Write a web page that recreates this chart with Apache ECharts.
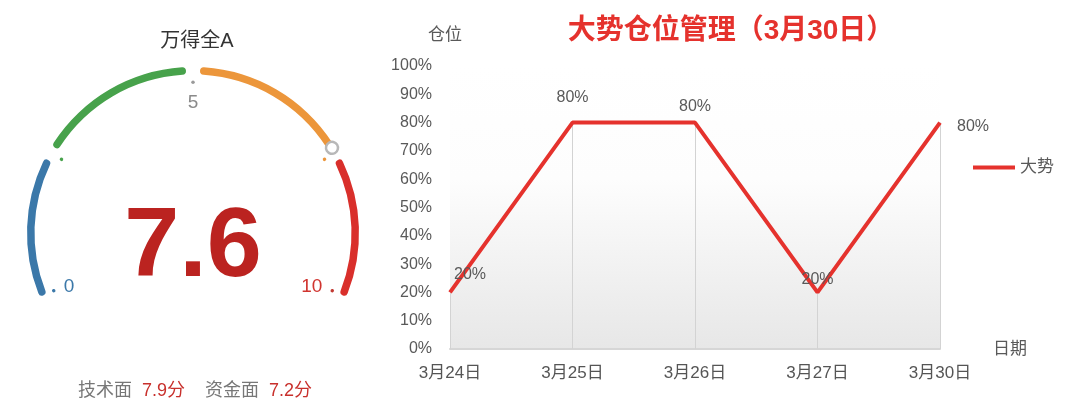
<!DOCTYPE html>
<html><head><meta charset="utf-8">
<script src="https://cdn.jsdelivr.net/npm/echarts@6/dist/echarts.min.js"></script>
<style>html,body{margin:0;padding:0;background:#fff}#c{width:1080px;height:420px}</style>
</head><body><div id="c"></div>
<script>
// ---------- gauge data ----------
const gaugeTitle = '万得全A';
const gaugeValue = 7.6;
const gaugeMin = 0;
const gaugeMax = 10;
const gaugeSplits = 2;               // labels 0, 5, 10
const segmentBounds = [0, 2.3, 5, 7.7, 10];
const segmentColors = ['#3b78a9', '#47a24b', '#ec963b', '#d92f2b'];
const tickValues = [0, 2.3, 5, 7.7, 10];
const tickColors = ['#3b78a9', '#47a24b', '#9a9a9a', '#ec963b', '#c23a33'];
const subLabels = ['技术面', '资金面'];
const subScores = [7.9, 7.2];

// ---------- line chart data ----------
const lineTitle = '大势仓位管理（3月30日）';
const categories = ['3月24日', '3月25日', '3月26日', '3月27日', '3月30日'];
const seriesName = '大势';
const positionValues = [20, 80, 80, 20, 80];
const yAxisName = '仓位';
const xAxisName = '日期';

// label placement (layout only)
const labelPlacement = [
  {position: 'top', offset: [20, -5]},
  {position: 'top', offset: [0, -12]},
  {position: 'top', offset: [0, -3]},
  {position: 'top', offset: [0, 0]},
  {position: 'right', offset: [12, 4]}
];

const FONT = "'Liberation Sans', 'Noto Sans CJK SC', sans-serif";
const chart = echarts.init(document.getElementById('c'));

// gauge geometry
const G_CENTER = [193, 233];
const G_RADIUS = 166;
const G_START = 202.5;
const G_END = -22.5;
const angleOf = v => G_START - (v - gaugeMin) / (gaugeMax - gaugeMin) * (G_START - G_END);
const HALF_GAP = 3.8, END_PAD = 1.2;

const segmentSeries = segmentColors.map((col, i) => {
  const a0 = angleOf(segmentBounds[i]) - (i === 0 ? END_PAD : HALF_GAP);
  const a1 = angleOf(segmentBounds[i + 1]) + (i === segmentColors.length - 1 ? END_PAD : HALF_GAP);
  return {
    type: 'gauge', center: G_CENTER, radius: G_RADIUS,
    startAngle: a0, endAngle: a1, min: 0, max: 1,
    axisLine: {show: true, roundCap: true, lineStyle: {width: 7.5, color: [[1, col]]}},
    axisTick: {show: false}, splitLine: {show: false}, axisLabel: {show: false},
    pointer: {show: false}, anchor: {show: false}, progress: {show: false},
    title: {show: false}, detail: {show: false}, data: []
  };
});

const tickSeries = {
  type: 'gauge', center: G_CENTER, radius: G_RADIUS,
  startAngle: G_START, endAngle: G_END, min: gaugeMin, max: gaugeMax,
  axisLine: {show: false}, axisTick: {show: false}, splitLine: {show: false}, axisLabel: {show: false},
  anchor: {show: false}, progress: {show: false}, title: {show: false}, detail: {show: false},
  pointer: {show: true, icon: 'circle', width: 3.5, length: 3.5, offsetCenter: [0, -149]},
  data: tickValues.map((v, i) => ({value: v, itemStyle: {color: tickColors[i]}}))
};

const mainGauge = {
  type: 'gauge', center: G_CENTER, radius: G_RADIUS,
  startAngle: G_START, endAngle: G_END, min: gaugeMin, max: gaugeMax, splitNumber: gaugeSplits,
  axisLine: {show: false, lineStyle: {width: 0, color: [[0.23, '#3b78a9'], [0.4999, '#47a24b'], [0.5, '#8a8a8a'], [0.77, '#ec963b'], [1, '#d0342f']]}},
  axisTick: {show: false},
  splitLine: {show: false, length: 0, distance: 0},
  axisLabel: {show: true, distance: 26, color: 'auto', fontSize: 19, fontFamily: FONT},
  anchor: {show: false}, progress: {show: false}, title: {show: false},
  pointer: {show: true, icon: 'circle', width: 12, length: 12, offsetCenter: [0, -157],
    itemStyle: {color: '#ffffff', borderColor: '#b8b8b8', borderWidth: 2.5}},
  detail: {show: true, offsetCenter: [0, 16], fontSize: 99, fontWeight: 'bold', color: '#bb2320',
    fontFamily: FONT, formatter: '{value}'},
  data: [{value: gaugeValue, name: gaugeTitle}]
};

const subText = subLabels.map((l, i) => `{l|${l}}  {v|${subScores[i]}分}`).join('    ');

const option = {
  animation: false,
  textStyle: {fontFamily: FONT},
  title: [
    {text: gaugeTitle, left: 192, top: 26, textAlign: 'center',
      textStyle: {fontSize: 20, fontWeight: 'normal', color: '#333', fontFamily: FONT}},
    {text: subText, left: 190, top: 377, textAlign: 'center',
      textStyle: {fontSize: 18, fontWeight: 'normal', fontFamily: FONT,
        rich: {l: {fontSize: 18, fontWeight: 'normal', color: '#777'}, v: {fontSize: 18, fontWeight: 'normal', color: '#c8302c'}}}},
    {text: lineTitle, left: 726, top: 12, textAlign: 'center',
      textStyle: {fontSize: 28, fontWeight: 'bold', color: '#e5322d', fontFamily: FONT}}
  ],
  legend: {
    data: [seriesName], left: 968, top: 154, icon: 'rect', itemWidth: 42, itemHeight: 4,
    textStyle: {fontSize: 17, color: '#595959'}
  },
  grid: {
    left: 450, right: 140, top: 66, bottom: 71, show: true, borderWidth: 0,
    backgroundColor: {type: 'linear', x: 0, y: 0, x2: 0, y2: 1, colorStops: [
      {offset: 0, color: '#ffffff'}, {offset: 0.4, color: '#fdfdfd'}, {offset: 1, color: '#e7e7e7'}]}
  },
  xAxis: {
    type: 'category', data: categories, boundaryGap: false,
    name: xAxisName, nameLocation: 'end', nameGap: 53,
    nameTextStyle: {fontSize: 17, color: '#595959', padding: [16, 0, 0, 0]},
    axisLine: {lineStyle: {color: '#d6d6d6', width: 2}},
    axisTick: {show: false},
    axisLabel: {margin: 16, fontSize: 17, color: '#555'},
    splitLine: {show: false}
  },
  yAxis: {
    type: 'value', min: 0, max: 100, interval: 10,
    name: yAxisName, nameLocation: 'end', nameGap: 22,
    nameTextStyle: {fontSize: 17, color: '#595959', padding: [0, 10, 0, 0]},
    axisLine: {show: false}, axisTick: {show: false}, splitLine: {show: false},
    axisLabel: {formatter: '{value}%', fontSize: 16, color: '#595959', margin: 18}
  },
  series: [
    ...segmentSeries,
    tickSeries,
    mainGauge,
    {
      type: 'line', name: seriesName,
      symbol: 'circle', symbolSize: 0.1, showSymbol: true,
      lineStyle: {color: '#e5322d', width: 4},
      itemStyle: {color: '#e5322d'},
      label: {show: true, formatter: '{c}%', fontSize: 16, color: '#595959'},
      data: positionValues.map((v, i) => ({value: v, label: labelPlacement[i]})),
      z: 3,
      markLine: {
        silent: true, symbol: 'none', label: {show: false}, z: 1,
        lineStyle: {color: '#d3d3d3', width: 1, type: 'solid'},
        data: positionValues.map((v, i) => [{coord: [i, v]}, {coord: [i, 0]}])
      }
    }
  ]
};
chart.setOption(option);
</script></body></html>
